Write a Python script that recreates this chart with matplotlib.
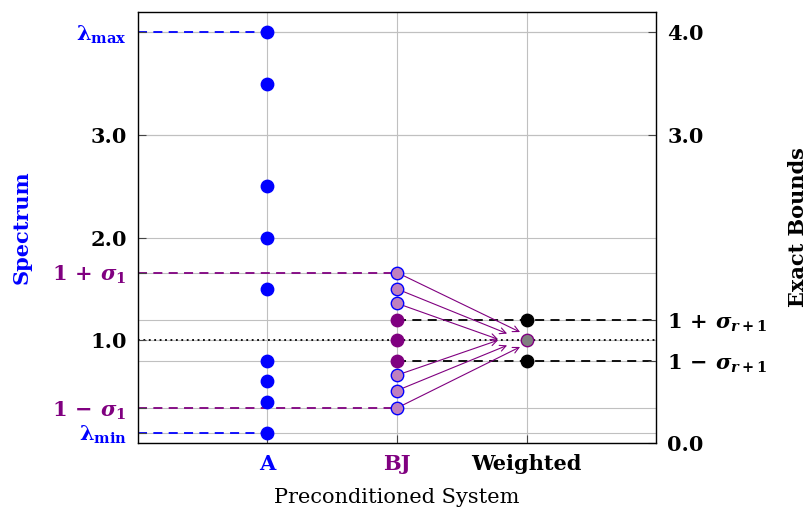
import matplotlib
matplotlib.use("Agg")
import matplotlib.pyplot as plt

# --- data ---
categories = ["A", "BJ", "Weighted"]
cat_colors = ["blue", "purple", "black"]
cat_x = [1, 2, 3]

a_spectrum = [4.0, 3.5, 2.5, 2.0, 1.5, 0.8, 0.6, 0.4, 0.1]
bj_outer = [1.66, 1.5, 1.36, 0.66, 0.51, 0.34]
bj_inner = [1.2, 1.0, 0.8]
weighted_bounds = [1.2, 0.8]
weighted_center = [1.0]

# where the arrows from the outer BJ eigenvalues end
arrow_tip_x = [2.95, 2.85, 2.78, 2.78, 2.85, 2.95]
arrow_tip_y = [1.08, 1.065, 1.01, 1.0, 0.95, 0.935]

lambda_max, lambda_min = 4.0, 0.1
sigma_1 = 0.66
sigma_r1 = 0.2

left_ticks = [lambda_min, 1 - sigma_1, 1.0, 1 + sigma_1, 2.0, 3.0, lambda_max]
left_labels = [r"$\mathrm{\lambda}_{\min}$", r"$1\,-\,\sigma_1$", "1.0", r"$1\,+\,\sigma_1$",
               "2.0", "3.0", r"$\mathrm{\lambda}_{\max}$"]
left_colors = ["blue", "purple", "black", "purple", "black", "black", "blue"]

right_ticks = [0.0, 1 - sigma_r1, 1 + sigma_r1, 3.0, 4.0]
right_labels = ["0.0", r"$1\,-\,\sigma_{r+1}$", r"$1\,+\,\sigma_{r+1}$", "3.0", "4.0"]

# --- style ---
plt.rcParams["font.family"] = "DejaVu Serif"
plt.rcParams["font.weight"] = "bold"
plt.rcParams["mathtext.fontset"] = "custom"
plt.rcParams["mathtext.rm"] = "DejaVu Serif:bold"
plt.rcParams["mathtext.bf"] = "DejaVu Serif:bold"
plt.rcParams["mathtext.it"] = "DejaVu Serif:italic:bold"

grid_col = "#c0c0c0"
light_purple = "#bf80bf"
fs = 15

fig = plt.figure(figsize=(8.11, 5.15), dpi=100)
ax = fig.add_axes([0.170, 0.140, 0.639, 0.837])
ax.set_xlim(0, 4)
ax.set_ylim(0, 4.2)

# grid (left ticks, right ticks, categories)
for y in left_ticks + right_ticks:
    ax.axhline(y, color=grid_col, lw=0.8, zorder=0)
for x in cat_x:
    ax.axvline(x, color=grid_col, lw=0.8, zorder=0)

# reference lines
ax.axhline(1.0, color="black", ls=(0, (1, 2.0)), lw=1.3, zorder=1)
dash = (0, (5, 3.5))
ax.plot([0, 1], [lambda_max] * 2, color="blue", ls=dash, lw=1.3, zorder=1)
ax.plot([0, 1], [lambda_min] * 2, color="blue", ls=dash, lw=1.3, zorder=1)
ax.plot([0, 2], [1 + sigma_1] * 2, color="purple", ls=dash, lw=1.3, zorder=1)
ax.plot([0, 2], [1 - sigma_1] * 2, color="purple", ls=dash, lw=1.3, zorder=1)
for y in weighted_bounds:
    ax.plot([2, 4], [y, y], color="black", ls=dash, lw=1.3, zorder=1)

# arrows
for y0, tx, ty in zip(bj_outer, arrow_tip_x, arrow_tip_y):
    ax.annotate("", xy=(tx, ty), xytext=(2, y0),
                arrowprops=dict(arrowstyle="->", color="purple", lw=0.8,
                                shrinkA=5, shrinkB=0, mutation_scale=11),
                zorder=2)

# points
ms = 80
ax.scatter([1] * len(a_spectrum), a_spectrum, s=ms, color="blue", zorder=3)
ax.scatter([2] * len(bj_outer), bj_outer, s=ms, facecolor=light_purple,
           edgecolor="blue", linewidth=1.0, zorder=3)
ax.scatter([2] * len(bj_inner), bj_inner, s=ms, color="purple", zorder=3)
ax.scatter([3] * len(weighted_bounds), weighted_bounds, s=ms, color="black", zorder=3)
ax.scatter([3] * len(weighted_center), weighted_center, s=ms, facecolor="gray",
           edgecolor="purple", linewidth=1.0, zorder=3)

# axes ticks and labels
ax.set_xticks(cat_x)
ax.set_xticklabels(categories, fontsize=fs, fontweight="bold")
for lbl, c in zip(ax.get_xticklabels(), cat_colors):
    lbl.set_color(c)

ax.set_yticks(left_ticks)
ax.set_yticklabels(left_labels, fontsize=fs, fontweight="bold")
for lbl, c in zip(ax.get_yticklabels(), left_colors):
    lbl.set_color(c)

ax.tick_params(direction="in", length=6, width=0.8, color="#444444", pad=8)
for sp in ax.spines.values():
    sp.set_color("#333333")
    sp.set_linewidth(1.0)

ax2 = ax.twinx()
ax2.set_ylim(ax.get_ylim())
ax2.set_yticks(right_ticks)
ax2.set_yticklabels(right_labels, fontsize=fs, fontweight="bold")
ax2.tick_params(direction="in", length=6, width=0.8, color="#444444", pad=8)

ax.set_ylabel("Spectrum", color="blue", fontsize=fs, fontweight="bold")
ax.yaxis.set_label_coords(-0.205, 0.5)
ax2.set_ylabel("Exact Bounds", color="black", fontsize=fs, fontweight="bold")
ax2.yaxis.set_label_coords(1.254, 0.5)
ax.set_xlabel("Preconditioned System", fontsize=fs, fontweight="normal")
ax.xaxis.set_label_coords(0.5, -0.105)

fig.savefig("out.png", dpi=100)
